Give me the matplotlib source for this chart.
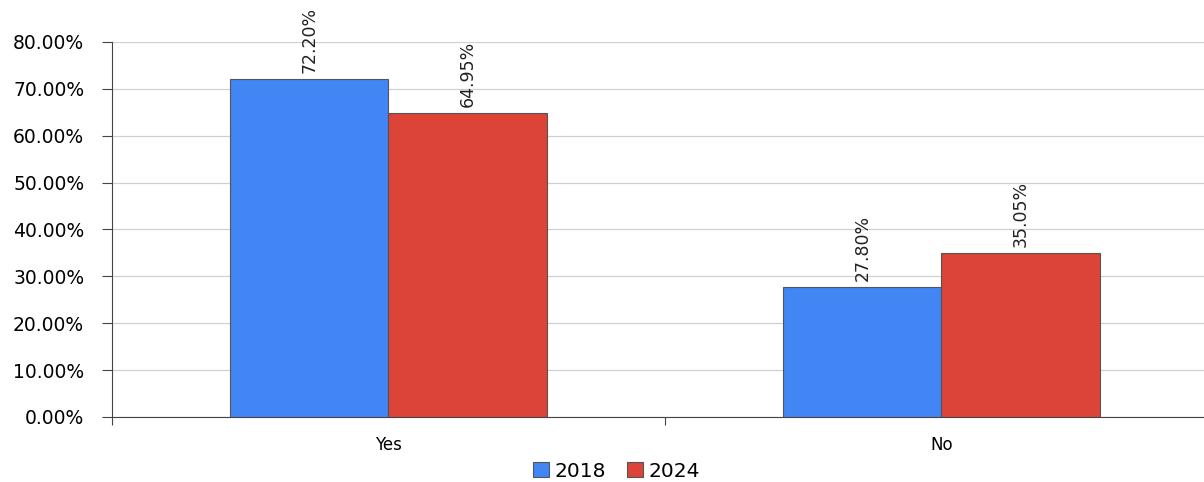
import numpy as np
import matplotlib
matplotlib.use('Agg')
import matplotlib.pyplot as plt
from matplotlib.ticker import FuncFormatter

categories = ['Yes', 'No']
series_names = ['2018', '2024']
vals_2018 = [72.20, 27.80]
vals_2024 = [64.95, 35.05]
colors = ['#4285f4', '#db4437']

plt.rcParams['font.family'] = ['DejaVu Sans']

fig = plt.figure(figsize=(12.04, 4.82), dpi=100)
ax = fig.add_axes([0.093, 0.1349, 0.9186, 0.778])

x = np.arange(len(categories)) + 0.5
w = 0.286
for i, (vals, name) in enumerate(zip([vals_2018, vals_2024], series_names)):
    pos = x - w / 2 + i * w
    bars = ax.bar(pos, vals, width=w, color=colors[i], edgecolor='#555555',
                  linewidth=0.8, label=name, zorder=3)
    for b, v in zip(bars, vals):
        ax.annotate('%.2f%%' % v, (b.get_x() + b.get_width() / 2, v),
                    xytext=(0, 4), textcoords='offset points',
                    ha='center', va='bottom', rotation=90, fontsize=12.5,
                    color='#222222')

ax.set_xlim(0, 2)
ax.set_ylim(0, 80)
ax.set_yticks(np.arange(0, 81, 10))
ax.yaxis.set_major_formatter(FuncFormatter(lambda v, p: '%.2f%%' % v))
ax.set_xticks([0, 1, 2])
ax.set_xticklabels([])
ax.set_xticks(x, minor=True)
ax.set_xticklabels(categories, minor=True, fontsize=12)
ax.tick_params(axis='x', which='minor', length=0, pad=14)
ax.tick_params(axis='x', which='major', length=6, color='#444444', direction='out')
ax.tick_params(axis='y', length=7, color='#444444', labelsize=13.5, pad=13)
ax.grid(axis='y', color='#d0d0d0', linewidth=0.9, zorder=0)

for s in ['top', 'right']:
    ax.spines[s].set_visible(False)
ax.spines['left'].set_color('#444444')
ax.spines['bottom'].set_color('#444444')

handles, labels = ax.get_legend_handles_labels()
fig.legend(handles, labels, loc='lower center', bbox_to_anchor=(0.512, -0.035),
           ncol=2, frameon=False, fontsize=14.5, handlelength=0.8,
           handleheight=0.8, handletextpad=0.3, columnspacing=1.0)

fig.savefig('out.png', dpi=100)
